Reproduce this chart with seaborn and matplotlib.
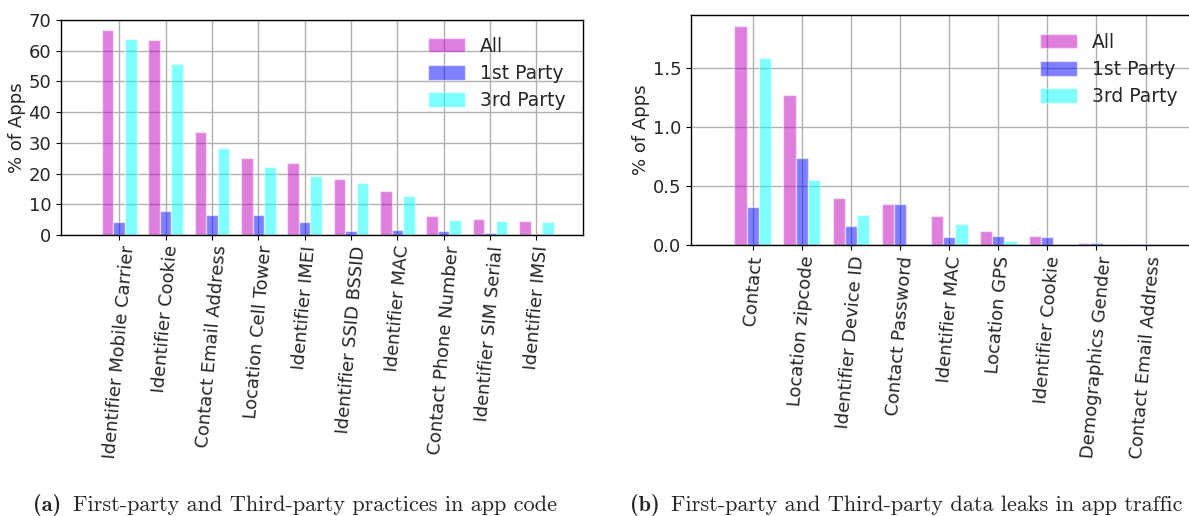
import matplotlib
matplotlib.use("Agg")
import matplotlib.pyplot as plt
from matplotlib.patches import Patch
import pandas as pd
import seaborn as sns

# (a) practices in app code
code_cats = ["Identifier Mobile Carrier", "Identifier Cookie", "Contact Email Address",
             "Location Cell Tower", "Identifier IMEI", "Identifier SSID BSSID",
             "Identifier MAC", "Contact Phone Number", "Identifier SIM Serial",
             "Identifier IMSI"]
code_all = [66.7, 63.5, 33.5, 25.1, 23.4, 18.2, 14.3, 6.2, 5.2, 4.6]
code_first = [4.3, 7.9, 6.5, 6.5, 4.3, 1.4, 1.7, 1.4, 0.8, 0.4]
code_third = [63.8, 55.8, 28.4, 22.1, 19.3, 17.0, 12.7, 5.0, 4.6, 4.3]

# (b) leaks in app traffic
traffic_cats = ["Contact", "Location zipcode", "Identifier Device ID", "Contact Password",
                "Identifier MAC", "Location GPS", "Identifier Cookie",
                "Demographics Gender", "Contact Email Address"]
traffic_all = [1.861, 1.274, 0.401, 0.35, 0.248, 0.121, 0.079, 0.019, 0.011]
traffic_first = [0.325, 0.74, 0.164, 0.35, 0.07, 0.079, 0.07, 0.019, 0.011]
traffic_third = [1.587, 0.553, 0.257, 0.0, 0.18, 0.036, 0.0, 0.0, 0.0]

series_names = ["All", "1st Party", "3rd Party"]
series_colors = ["m", "b", "cyan"]

sns.set_style("ticks", {"axes.grid": True, "grid.color": "#b0b0b0",
                        "axes.edgecolor": "black", "xtick.bottom": True,
                        "ytick.left": True})
plt.rcParams["font.family"] = ["DejaVu Sans"]


def draw(ax, cats, s_all, s_first, s_third, ymax, yticks, yfmt, leg_anchor):
    n = len(cats)
    df = pd.DataFrame({
        "cat": cats * 3,
        "pct": s_all + s_first + s_third,
        "group": ["All"] * n + ["1st Party"] * n + ["3rd Party"] * n,
    })
    sns.barplot(data=df, x="cat", y="pct", hue="group", order=cats,
                hue_order=series_names, palette=series_colors, saturation=1,
                width=0.75, alpha=0.5, errorbar=None, legend=False, ax=ax)
    ax.set_xlim(-1.257, 10)
    ax.set_ylim(0, ymax)
    ax.set_yticks(yticks)
    ax.set_yticklabels([yfmt.format(t) for t in yticks])
    ax.set_xlabel("")
    ax.set_ylabel("% of Apps", fontsize=13, labelpad=2)
    ax.tick_params(axis="both", labelsize=13, length=3.5, width=0.8, color="black")
    ax.tick_params(axis="x", labelrotation=85)
    for lab in ax.get_xticklabels():
        lab.set_ha("center")
    ax.grid(True, color="#b0b0b0", linewidth=1.0)
    for sp in ax.spines.values():
        sp.set_color("black")
        sp.set_linewidth(1.0)
    handles = [Patch(facecolor=c, alpha=0.5, label=s) for c, s in zip(series_colors, series_names)]
    ax.legend(handles=handles, loc="upper left", bbox_to_anchor=leg_anchor,
              bbox_transform=fig.transFigure, borderaxespad=0, frameon=False,
              fontsize=13.5, handleheight=0.85, handlelength=2.0, labelspacing=0.45)


fig = plt.figure(figsize=(11.89, 5.16), dpi=100)
ax1 = fig.add_axes([0.0513, 0.5446, 0.4388, 0.4167])
ax2 = fig.add_axes([0.5812, 0.5246, 0.4648, 0.4463])

draw(ax1, code_cats, code_all, code_first, code_third, 70,
     [0, 10, 20, 30, 40, 50, 60, 70], "{:.0f}", (420 / 1189, 1 - 29 / 516))
draw(ax2, traffic_cats, traffic_all, traffic_first, traffic_third, 1.952,
     [0.0, 0.5, 1.0, 1.5], "{:.1f}", (1032 / 1189, 1 - 25 / 516))

cap_y = 1 - 505 / 516
fig.text(33 / 1189, cap_y, "(a)", family="cmb10", fontsize=16, va="center")
fig.text(73 / 1189, cap_y, "First-party and Third-party practices in app code",
         family="cmr10", fontsize=16, va="center")
fig.text(630 / 1189, cap_y, "(b)", family="cmb10", fontsize=16, va="center")
fig.text(671 / 1189, cap_y, "First-party and Third-party data leaks in app traffic",
         family="cmr10", fontsize=16, va="center")

fig.savefig("out.png", dpi=100)
